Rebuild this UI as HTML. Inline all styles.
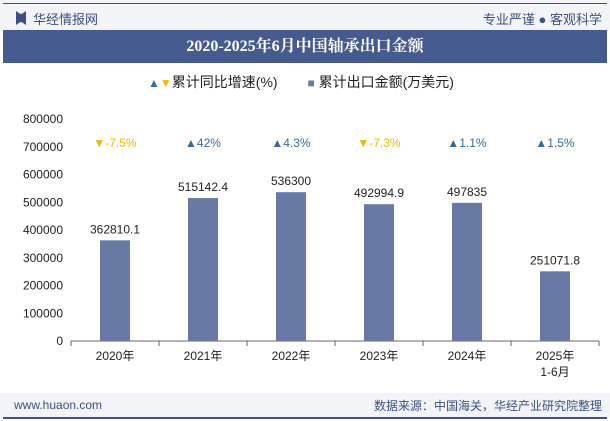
<!DOCTYPE html>
<html><head><meta charset="utf-8"><style>
body{margin:0;width:610px;height:421px;overflow:hidden;background:#fff;font-family:"Liberation Sans","Noto Sans CJK SC",sans-serif;position:relative}
.abs{position:absolute}
</style></head><body>
<div class="abs" style="left:0;top:0;width:610px;height:30px;background:#f3f4f8"></div>
<div class="abs" style="left:3px;top:3px;width:604px;height:1px;background:#3d5080"></div>
<div class="abs" style="left:16px;top:11px;width:10px;height:14px;background:#3d5080;clip-path:polygon(0 0,40% 20%,60% 20%,100% 0,100% 100%,60% 80%,40% 80%,0 100%)"></div>
<div class="abs" style="left:33px;top:9px;font-size:13px;color:#3d5080">华经情报网</div>
<div class="abs" style="right:8px;top:9px;font-size:13px;color:#3d5080">专业严谨 ● 客观科学</div>
<div class="abs" style="left:3px;top:30px;width:604px;height:33px;background:#455a8f;color:#fff;font-weight:bold;font-size:16px;text-align:center;line-height:33px;font-family:'Liberation Serif','Noto Serif CJK SC',serif">2020-2025年6月中国轴承出口金额</div>
<div class="abs" style="left:148px;top:72px;font-size:14px;color:#222;white-space:nowrap">
<span><span style="color:#3b7090;font-size:12px">▲</span><span style="color:#f2b800;font-size:12px">▼</span>累计同比增速(%)</span>
<span style="margin-left:26px"><span style="color:#687aa3;font-size:12px">■</span> 累计出口金额(万美元)</span></div>
<svg class="abs" style="left:0;top:0" width="610" height="421" id="chart"></svg>
<div class="abs" style="left:0;top:393px;width:610px;height:25px;background:#f3f4f8"></div>
<div class="abs" style="left:3px;top:417px;width:604px;height:2px;background:#3d5080"></div>
<div class="abs" style="left:14px;top:398px;font-size:12px;color:#3d5080">www.huaon.com</div>
<div class="abs" style="right:8px;top:397px;font-size:12px;color:#3d5080">数据来源：中国海关，华经产业研究院整理</div>
<script>
const categories=["2020年","2021年","2022年","2023年","2024年","2025年\n1-6月"];
const amounts=[362810.1,515142.4,536300,492994.9,497835,251071.8];
const amountLabels=["362810.1","515142.4","536300","492994.9","497835","251071.8"];
const growth=[-7.5,42,4.3,-7.3,1.1,1.5];
const growthLabels=["-7.5%","42%","4.3%","-7.3%","1.1%","1.5%"];
const yTicks=[0,100000,200000,300000,400000,500000,600000,700000,800000];
const svg=document.getElementById('chart');const NS='http://www.w3.org/2000/svg';
const x0=71,x1=599,y0=341,y1=119,ymax=800000;
const y=v=>y0-(v/ymax)*(y0-y1);
const bw=(x1-x0)/categories.length;
const cx=i=>x0+bw*(i+0.5);
function el(t,a,txt){const e=document.createElementNS(NS,t);for(const k in a)e.setAttribute(k,a[k]);if(txt!=null)e.textContent=txt;svg.appendChild(e);return e;}
let ax=el('line',{x1:x0,y1:y0,x2:x1,y2:y0,stroke:'#666'});


yTicks.forEach(v=>{const t=el('text',{x:x0-8,y:y(v)+4,'text-anchor':'end','font-size':12,fill:'#222'},String(v));

});
for(let i=0;i<=categories.length;i++){el('line',{x1:x0+bw*i,y1:y0,x2:x0+bw*i,y2:y0+5,stroke:'#666'});}
categories.forEach((c,i)=>{
const b=el('rect',{x:cx(i)-15,y:y(amounts[i]),width:30,height:y0-y(amounts[i]),fill:'#687aa3'});


const l=el('text',{x:cx(i),y:y(amounts[i])-7,'text-anchor':'middle','font-size':12,fill:'#222'},amountLabels[i]);


c.split('\n').forEach((s,k)=>{const t=el('text',{x:cx(i),y:y0+19+k*16,'text-anchor':'middle','font-size':12,fill:'#222'},s);

});
const up=growth[i]>=0;
const g=el('text',{x:cx(i),y:147,'text-anchor':'middle','font-size':12,fill:up?'#3b6a94':'#f2b800'},(up?'▲':'▼')+growthLabels[i]);


});
</script>
</body></html>
